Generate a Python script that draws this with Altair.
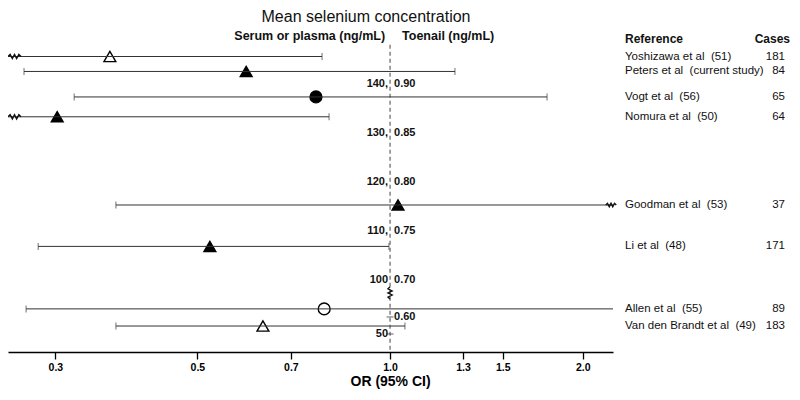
import math
import altair as alt
import pandas as pd

# ---------------- data ----------------
studies = [
    "Yoshizawa et al\u00a0 (51)",
    "Peters et al\u00a0 (current study)",
    "Vogt et al\u00a0 (56)",
    "Nomura et al\u00a0 (50)",
    "Goodman et al\u00a0 (53)",
    "Li et al\u00a0 (48)",
    "Allen et al\u00a0 (55)",
    "Van den Brandt et al\u00a0 (49)",
]
cases = [181, 84, 65, 64, 37, 171, 89, 183]
odds_ratio = [0.365, 0.596, 0.766, 0.302, 1.029, 0.523, 0.789, 0.633]
ci_lower = [None, 0.268, 0.321, None, 0.373, 0.282, 0.270, 0.373]
ci_upper = [0.783, 1.263, 1.759, 0.803, None, 0.996, None, 1.055]
break_lower = [True, False, False, True, False, False, False, False]
break_upper = [False, False, False, False, True, False, False, False]
# mean selenium concentration of each study, on the serum (ng/mL) scale
mean_selenium = [145.6, 142.55, 137.35, 133.3, 115.3, 106.85, 94.1, 90.6]
specimen = ["Toenail", "Serum or plasma", "Serum or plasma", "Serum or plasma",
            "Serum or plasma", "Serum or plasma", "Toenail", "Toenail"]
design = ["triangle", "triangle", "circle", "triangle",
          "triangle", "triangle", "circle", "triangle"]

# concentration scale drawn along the OR = 1 line
serum_levels = [140, 130, 120, 110, 100]
serum_text = ["140,", "130,", "120,", "110,", "100\u00a0"]
toenail_text = ["0.90", "0.85", "0.80", "0.75", "0.70"]
lower_levels = [92.45, 88.98]
lower_serum_text = ["", "50"]
lower_toenail_text = ["0.60", ""]
break_level = 97.35
ref_top = 148.0

x_ticks = [0.3, 0.5, 0.7, 1.0, 1.3, 1.5, 2.0]

# ---------------- layout ----------------
X_MIN, X_MAX = 0.253, 2.23
Y_MIN, Y_MAX = 85.3, 155.5
W, H = 605, 344
FONT = "Liberation Sans"
title_x = (math.log(1.0) - math.log(X_MIN)) / (math.log(X_MAX) - math.log(X_MIN)) * W

xscale = alt.Scale(type="log", domain=[X_MIN, X_MAX], nice=False, zero=False)
yscale = alt.Scale(domain=[Y_MIN, Y_MAX], nice=False, zero=False)
xaxis = alt.Axis(values=x_ticks, format=".1f", title="OR (95% CI)",
                 titleX=title_x, grid=False, domainColor="black", domainWidth=1.6,
                 tickColor="black", tickWidth=1.3, tickSize=7,
                 labelFontSize=10.5, labelFontWeight="bold", labelColor="black",
                 labelPadding=3, labelFont=FONT, titleFont=FONT,
                 titleFontSize=14, titleFontWeight="bold",
                 titleColor="black", titlePadding=1.5)

df = pd.DataFrame({
    "study": studies, "cases": cases, "or": odds_ratio,
    "lo": ci_lower, "hi": ci_upper,
    "blo": break_lower, "bhi": break_upper,
    "pos": mean_selenium, "specimen": specimen, "design": design,
})
df["lo_draw"] = df["lo"].fillna(X_MIN)
df["hi_draw"] = df["hi"].fillna(X_MAX)
df["cases_txt"] = df["cases"].astype(str)

ends = pd.concat([
    df[["lo", "pos"]].rename(columns={"lo": "v"}),
    df[["hi", "pos"]].rename(columns={"hi": "v"}),
]).dropna()

levels = pd.DataFrame({"level": serum_levels + lower_levels,
                       "serum": serum_text + lower_serum_text,
                       "toenail": toenail_text + lower_toenail_text})
lower_ticks = pd.DataFrame({"level": lower_levels})
one = pd.DataFrame({"a": [0]})


def X(f):
    return alt.X(f, type="quantitative", scale=xscale, axis=xaxis)


def XD(v):
    return alt.X(datum=v, type="quantitative", scale=xscale, axis=xaxis)


def Y(f):
    return alt.Y(f, type="quantitative", scale=yscale, axis=None)


hzig = "M-1,0L-0.67,-0.32L-0.33,0.32L0,-0.32L0.33,0.32L0.67,-0.32L1,0"
vzig = "M0,-1L-0.35,-0.67L0.35,-0.33L-0.35,0L0.35,0.33L-0.35,0.67L0,1"

ci = alt.Chart(df).mark_rule(color="#333", strokeWidth=1).encode(
    x=X("lo_draw"), x2="hi_draw", y=Y("pos"))

ci_ends = alt.Chart(ends).mark_tick(orient="vertical", size=7, thickness=1, color="#333").encode(
    x=X("v"), y=Y("pos"))

brk_lo = alt.Chart(df[df["blo"]].assign(xb=X_MIN)).mark_point(
    shape=hzig, size=169, filled=False, color="#111", strokeWidth=1.4, opacity=1, xOffset=6.5
).encode(x=X("xb"), y=Y("pos"))

brk_hi = alt.Chart(df[df["bhi"]].assign(xb=X_MAX)).mark_point(
    shape=hzig, size=110, filled=False, color="#111", strokeWidth=1.4, opacity=1, xOffset=-2
).encode(x=X("xb"), y=Y("pos"))

ref = alt.Chart(one).mark_rule(color="#444", strokeWidth=1, strokeDash=[4, 3]).encode(
    x=XD(1.0),
    y=alt.Y(datum=ref_top, type="quantitative", scale=yscale, axis=None),
    y2=alt.datum(Y_MIN))

ref_break = alt.Chart(one).mark_point(
    shape=vzig, size=150, filled=False, color="#111", strokeWidth=1.3, opacity=1
).encode(x=XD(1.0), y=alt.Y(datum=break_level, type="quantitative", scale=yscale, axis=None))

small_ticks = alt.Chart(lower_ticks).mark_tick(
    orient="horizontal", size=7, thickness=1, color="#222"
).encode(x=XD(1.0), y=Y("level"))

lev_left = alt.Chart(levels).mark_text(
    align="right", baseline="middle", dx=-2, fontSize=11, fontWeight="bold", color="#111"
).encode(x=XD(1.0), y=Y("level"), text="serum:N")

lev_right = alt.Chart(levels).mark_text(
    align="left", baseline="middle", dx=4, fontSize=11, fontWeight="bold", color="#111"
).encode(x=XD(1.0), y=Y("level"), text="toenail:N")

points = alt.Chart(df).mark_point(
    filled=True, size=140, stroke="black", strokeWidth=1.4, opacity=1
).encode(
    x=X("or"),
    y=Y("pos"),
    shape=alt.Shape("design:N", scale=alt.Scale(domain=["triangle", "circle"],
                                                range=["triangle-up", "circle"]), legend=None),
    fill=alt.Fill("specimen:N", scale=alt.Scale(domain=["Serum or plasma", "Toenail"],
                                                range=["black", "white"]), legend=None),
)

names = alt.Chart(df).mark_text(align="left", baseline="middle", fontSize=11.5, color="#111").encode(
    x=alt.value(617), y=Y("pos"), text="study:N")
ncases = alt.Chart(df).mark_text(align="right", baseline="middle", fontSize=11.5, color="#111").encode(
    x=alt.value(777), y=Y("pos"), text="cases_txt:N")


def label(txt, x, y, align, size, weight, baseline="middle"):
    return alt.Chart(one).mark_text(align=align, baseline=baseline, fontSize=size,
                                    fontWeight=weight, color="#111").encode(
        x=alt.value(x), y=alt.value(y), text=alt.value(txt))


title = label("Mean selenium concentration", 358, 14, "center", 16, "normal", "alphabetic")
h_serum = alt.Chart(one).mark_text(align="right", baseline="middle", dx=-5, fontSize=12.5,
                                   fontWeight="bold", color="#111").encode(
    x=XD(1.0), y=alt.value(28), text=alt.value("Serum or plasma (ng/mL)"))
h_toe = alt.Chart(one).mark_text(align="left", baseline="middle", dx=12, fontSize=12.5,
                                 fontWeight="bold", color="#111").encode(
    x=XD(1.0), y=alt.value(28), text=alt.value("Toenail (ng/mL)"))
h_ref = label("Reference", 617, 31, "left", 12, "bold")
h_cases = label("Cases", 782, 31, "right", 12, "bold")

chart = alt.layer(
    points, ref, ref_break, small_ticks, ci, ci_ends, brk_lo, brk_hi,
    lev_left, lev_right, names, ncases, title, h_serum, h_toe, h_ref, h_cases
).properties(
    width=W, height=H,
    autosize=alt.AutoSizeParams(type="none"),
    padding={"left": 0, "top": 0, "right": 178, "bottom": 39},
).configure(font=FONT, view=alt.ViewConfig(strokeWidth=0))

chart.save("out.html", embed_options={"renderer": "svg", "actions": False})
